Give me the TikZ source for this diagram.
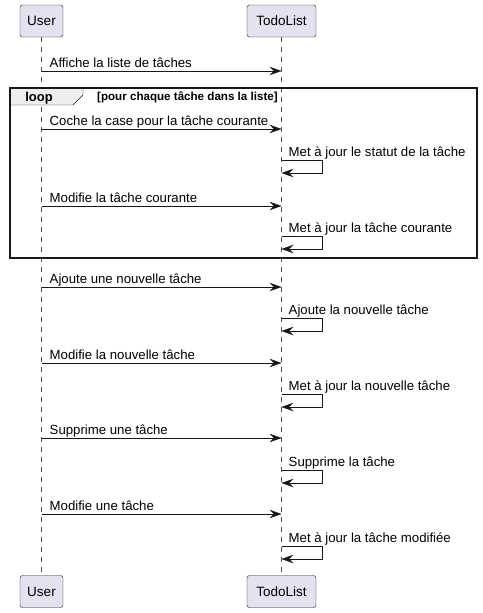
\documentclass[tikz,border=0pt]{standalone}
\usepackage{fontspec}
\setmainfont{Liberation Sans}
\usetikzlibrary{arrows.meta,positioning,calc}
\definecolor{partfill}{HTML}{E2E2F0}
\definecolor{linecol}{HTML}{181818}
\definecolor{tabfill}{HTML}{EEEEEE}

\begin{document}
\begin{tikzpicture}[x=1pt,y=-1pt,
  part/.style={draw=linecol,fill=partfill,rounded corners=2.5pt,minimum height=32pt,inner sep=0pt,font=\fontsize{13.5}{16}\selectfont},
  msg/.style={draw=linecol,-{Stealth[length=12pt,width=8.5pt,inset=4.5pt]}},
  lbl/.style={font=\fontsize{13.2}{15}\selectfont,anchor=base west,inner sep=0pt},
  life/.style={draw=linecol!75,dash pattern=on 5pt off 5pt}]
\useasboundingbox (0,0) rectangle (482,613);
% Participants, top and bottom
\node[part,minimum width=43pt] (usertop) at (41.5,21) {User};
\node[part,minimum width=69pt] (todotop) at (281.5,21) {TodoList};
\node[part,minimum width=43pt] (userbot) at (41.5,591.5) {User};
\node[part,minimum width=69pt] (todobot) at (281.5,591.5) {TodoList};
% Lifelines
\draw[life] (usertop.south) -- (userbot.north);
\draw[life] (todotop.south) -- (todobot.north);
% Loop frame
\draw[draw=linecol,fill=tabfill] (10,88) -- (83,88) -- (83,95) -- (73,105) -- (10,105) -- cycle;
\draw[draw=linecol,line width=1.5pt] (10,88) rectangle (477,258);
\node[font=\bfseries\fontsize{13}{15}\selectfont,anchor=base,inner sep=0pt] (looptag) at (39,101) {loop};
\node[font=\bfseries\fontsize{11.6}{13}\selectfont,anchor=base west,inner sep=0pt] (loopcond) at (97,100) {[pour chaque tâche dans la liste]};
% Messages User -> TodoList
\foreach \y/\i/\txt in {71/1/Affiche la liste de tâches,
    129/2/Coche la case pour la tâche courante,
    206/3/Modifie la tâche courante,
    287/4/Ajoute une nouvelle tâche,
    363/5/Modifie la nouvelle tâche,
    438/6/Supprime une tâche,
    514/7/Modifie une tâche} {
  \coordinate (u\i) at (usertop.south |- 0,\y);
  \coordinate (t\i) at (todotop.south |- 0,\y);
  \draw[msg] (u\i) -- (t\i);
  \node[lbl] (m\i) at ([xshift=8pt,yshift=4pt]u\i) {\txt};
}
% Self messages on TodoList
\foreach \y/\i/\txt in {160/1/Met à jour le statut de la tâche,
    236/2/Met à jour la tâche courante,
    318/3/Ajoute la nouvelle tâche,
    394/4/Met à jour la nouvelle tâche,
    470/5/Supprime la tâche,
    546/6/Met à jour la tâche modifiée} {
  \coordinate (s\i) at (todotop.south |- 0,\y);
  \coordinate (r\i) at (todotop.south |- 0,\y+13);
  \draw[msg] (s\i) -- ++(41,0) |- (r\i);
  \node[lbl] (n\i) at ([xshift=7pt,yshift=4pt]s\i) {\txt};
}
\end{tikzpicture}
\end{document}
